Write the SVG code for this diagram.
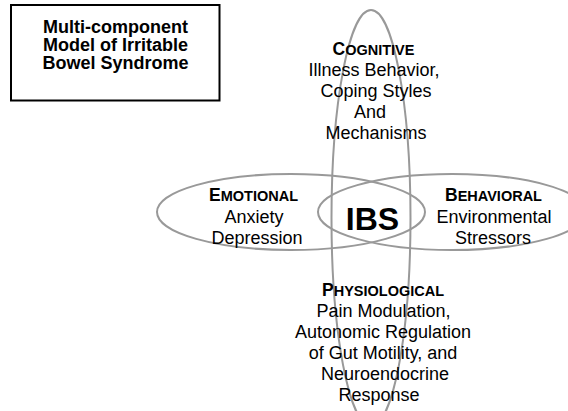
<svg xmlns="http://www.w3.org/2000/svg" width="568" height="411" viewBox="0 0 568 411">
  <style>
    .orbit { fill: none; stroke: #999; stroke-width: 2; }
    .t { font-family: "Liberation Sans", Arial, sans-serif; font-size: 18px; fill: #000; text-anchor: middle; }
    .h { font-family: "Liberation Sans", Arial, sans-serif; font-weight: bold; fill: #000; text-anchor: middle; }
    .big { font-size: 17.5px; }
    .sc { font-size: 14.5px; }
    .title { font-family: "Liberation Sans", Arial, sans-serif; font-weight: bold; font-size: 18px; fill: #000; text-anchor: middle; }
  </style>
  <rect width="568" height="411" fill="#fff"/>
  <g id="orbits">
    <ellipse class="orbit" cx="371" cy="218" rx="39.5" ry="208"/>
    <ellipse class="orbit" cx="291" cy="212" rx="134" ry="38"/>
    <ellipse class="orbit" cx="452" cy="212" rx="134" ry="38"/>
  </g>
  <g id="title">
    <rect x="11" y="5" width="208.5" height="95.5" fill="none" stroke="#000" stroke-width="2"/>
    <text class="title" x="115.5" y="32.5">Multi-component</text>
    <text class="title" x="115.5" y="50.5">Model of Irritable</text>
    <text class="title" x="115.5" y="68.5">Bowel Syndrome</text>
  </g>
  <g id="cognitive">
    <text class="h" x="373.5" y="55"><tspan class="big">C</tspan><tspan class="sc">OGNITIVE</tspan></text>
    <text class="t" x="374" y="76">Illness Behavior,</text>
    <text class="t" x="376" y="97">Coping Styles</text>
    <text class="t" x="370" y="118">And</text>
    <text class="t" x="376" y="139">Mechanisms</text>
  </g>
  <g id="emotional">
    <text class="h" x="253.5" y="201"><tspan class="big">E</tspan><tspan class="sc">MOTIONAL</tspan></text>
    <text class="t" x="254" y="222.5">Anxiety</text>
    <text class="t" x="257" y="244">Depression</text>
  </g>
  <g id="behavioral">
    <text class="h" x="493.5" y="201"><tspan class="big">B</tspan><tspan class="sc">EHAVIORAL</tspan></text>
    <text class="t" x="494" y="222.5">Environmental</text>
    <text class="t" x="493" y="244">Stressors</text>
  </g>
  <g id="ibs">
    <text class="h" x="372.5" y="230" font-size="32">IBS</text>
  </g>
  <g id="physiological">
    <text class="h" x="383" y="296"><tspan class="big">P</tspan><tspan class="sc">HYSIOLOGICAL</tspan></text>
    <text class="t" x="383.5" y="317">Pain Modulation,</text>
    <text class="t" x="383" y="338">Autonomic Regulation</text>
    <text class="t" x="383" y="359">of Gut Motility, and</text>
    <text class="t" x="385" y="380">Neuroendocrine</text>
    <text class="t" x="379" y="401">Response</text>
  </g>
</svg>
